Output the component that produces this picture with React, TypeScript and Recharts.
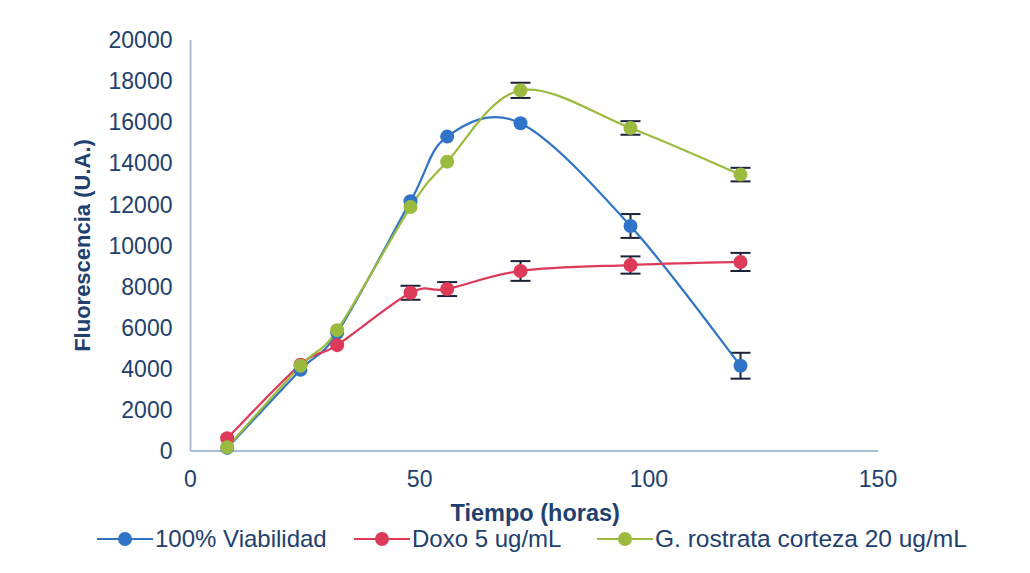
import React from 'react';
import { LineChart, Line, XAxis, YAxis, ErrorBar, Legend, Label } from 'recharts';

// Sampling times (hours)
const hours = [8, 24, 32, 48, 56, 72, 96, 120];

// Fluorescence readings (U.A.); error bars only where they extend past the marker
const viabilidad = [150, 3950, 5750, 12150, 15300, 15950, 10950, 4150];
const viabilidadErr = [null, null, null, null, null, null, 580, 630];
const doxo = [620, 4200, 5150, 7700, 7880, 8760, 9050, 9200];
const doxoErr = [null, null, null, 340, 340, 480, 420, 440];
const corteza = [180, 4150, 5880, 11870, 14080, 17550, 15720, 13450];
const cortezaErr = [null, null, null, null, null, 370, 330, 330];

const seriesNames = ['100% Viabilidad', 'Doxo 5 ug/mL', 'G. rostrata corteza 20 ug/mL'];
const seriesColors = ['#2f74c6', '#dc3a58', '#9bbb3e'];

const xTicks = [0, 50, 100, 150];
const yTicks = [0, 2000, 4000, 6000, 8000, 10000, 12000, 14000, 16000, 18000, 20000];

const rows = hours.map((h, i) => ({
  h,
  v: viabilidad[i],
  vErr: viabilidadErr[i],
  d: doxo[i],
  dErr: doxoErr[i],
  c: corteza[i],
  cErr: cortezaErr[i],
}));

const textColor = '#22406f';
const axisColor = '#a9bbd6';
const font = '"Liberation Sans", Arial, sans-serif';

// Catmull-Rom style smoothing, as used for smoothed scatter lines
const smoothCurve = (context: any) => {
  let pts: [number, number][] = [];
  return {
    areaStart() {},
    areaEnd() {},
    lineStart() {
      pts = [];
    },
    point(x: number, y: number) {
      pts.push([+x, +y]);
    },
    lineEnd() {
      const n = pts.length;
      if (!n) return;
      context.moveTo(pts[0][0], pts[0][1]);
      for (let i = 0; i < n - 1; i++) {
        const p0 = pts[Math.max(i - 1, 0)];
        const p1 = pts[i];
        const p2 = pts[i + 1];
        const p3 = pts[Math.min(i + 2, n - 1)];
        const c1x = p1[0] + (p2[0] - p0[0]) / 6;
        const c1y = p1[1] + (p2[1] - p0[1]) / 6;
        const c2x = p2[0] - (p3[0] - p1[0]) / 6;
        const c2y = p2[1] - (p3[1] - p1[1]) / 6;
        context.bezierCurveTo(c1x, c1y, c2x, c2y, p2[0], p2[1]);
      }
    },
  };
};

const legendLefts = [89, 346, 589];

const renderLegend = () => (
  <div style={{ position: 'relative', width: 1014, height: 30 }}>
    {seriesNames.map((name, i) => (
      <div
        key={name}
        style={{
          position: 'absolute',
          left: legendLefts[i],
          top: 0,
          display: 'flex',
          alignItems: 'center',
          height: 30,
        }}
      >
        <svg width={56} height={20}>
          <line x1={0} y1={10} x2={56} y2={10} stroke={seriesColors[i]} strokeWidth={2} />
          <circle cx={28} cy={10} r={7} fill={seriesColors[i]} />
        </svg>
        <span
          style={{
            fontFamily: font,
            fontSize: i === 2 ? 24.5 : 24,
            color: textColor,
            marginLeft: 2,
            whiteSpace: 'nowrap',
          }}
        >
          {name}
        </span>
      </div>
    ))}
  </div>
);

const XTitle = ({ viewBox }: any) => (
  <text
    x={viewBox.x + viewBox.width / 2 + 1}
    y={viewBox.y + 70}
    textAnchor="middle"
    fontFamily={font}
    fontSize={23.5}
    fontWeight="bold"
    fill={textColor}
  >
    Tiempo (horas)
  </text>
);

const YTitle = ({ viewBox }: any) => {
  const cx = 74;
  const cy = viewBox.y + viewBox.height / 2;
  return (
    <text
      x={cx}
      y={cy}
      transform={`rotate(-90 ${cx} ${cy})`}
      textAnchor="middle"
      dominantBaseline="central"
      fontFamily={font}
      fontSize={22}
      fontWeight="bold"
      fill={textColor}
    >
      Fluorescencia (U.A.)
    </text>
  );
};

const keys: [string, string][] = [
  ['v', 'vErr'],
  ['d', 'dErr'],
  ['c', 'cErr'],
];

export default function App() {
  return (
    <div style={{ width: 1014, height: 557, background: '#ffffff' }}>
      <LineChart
        width={1014}
        height={557}
        data={rows}
        margin={{ top: 32, right: 144, bottom: 74, left: 0 }}
      >
        <XAxis
          dataKey="h"
          type="number"
          domain={[0, 150]}
          ticks={xTicks}
          tickLine={false}
          tickSize={0}
          tickMargin={20}
          height={40}
          stroke={axisColor}
          strokeWidth={2}
          tick={{ fill: textColor, fontSize: 23, fontFamily: font }}
          interval={0}
        >
          <Label content={<XTitle />} />
        </XAxis>
        <YAxis
          type="number"
          domain={[0, 20000]}
          ticks={yTicks}
          tickLine={false}
          tickSize={0}
          tickMargin={18}
          width={182.5}
          stroke={axisColor}
          strokeWidth={2}
          tick={{ fill: textColor, fontSize: 23, fontFamily: font }}
          interval={0}
        >
          <Label content={<YTitle />} />
        </YAxis>
        <Legend
          layout="horizontal"
          verticalAlign="middle"
          align="center"
          wrapperStyle={{ left: 0, top: 516, width: 1014 }}
          content={renderLegend}
        />
        {/* curves and error bars */}
        {keys.map(([k, e], i) => (
          <Line
            key={k}
            dataKey={k}
            name={seriesNames[i]}
            type={smoothCurve as any}
            stroke={seriesColors[i]}
            strokeWidth={2.25}
            dot={false}
            activeDot={false}
            isAnimationActive={false}
          >
            <ErrorBar
              dataKey={e}
              direction="y"
              width={10}
              stroke="#1b2238"
              strokeWidth={2}
              isAnimationActive={false}
            />
          </Line>
        ))}
        {/* markers */}
        {keys.map(([k], i) => (
          <Line
            key={k + '-dots'}
            dataKey={k}
            legendType="none"
            stroke="none"
            dot={{ r: 7, fill: seriesColors[i], stroke: seriesColors[i], strokeWidth: 0 }}
            activeDot={false}
            isAnimationActive={false}
          />
        ))}
      </LineChart>
    </div>
  );
}
